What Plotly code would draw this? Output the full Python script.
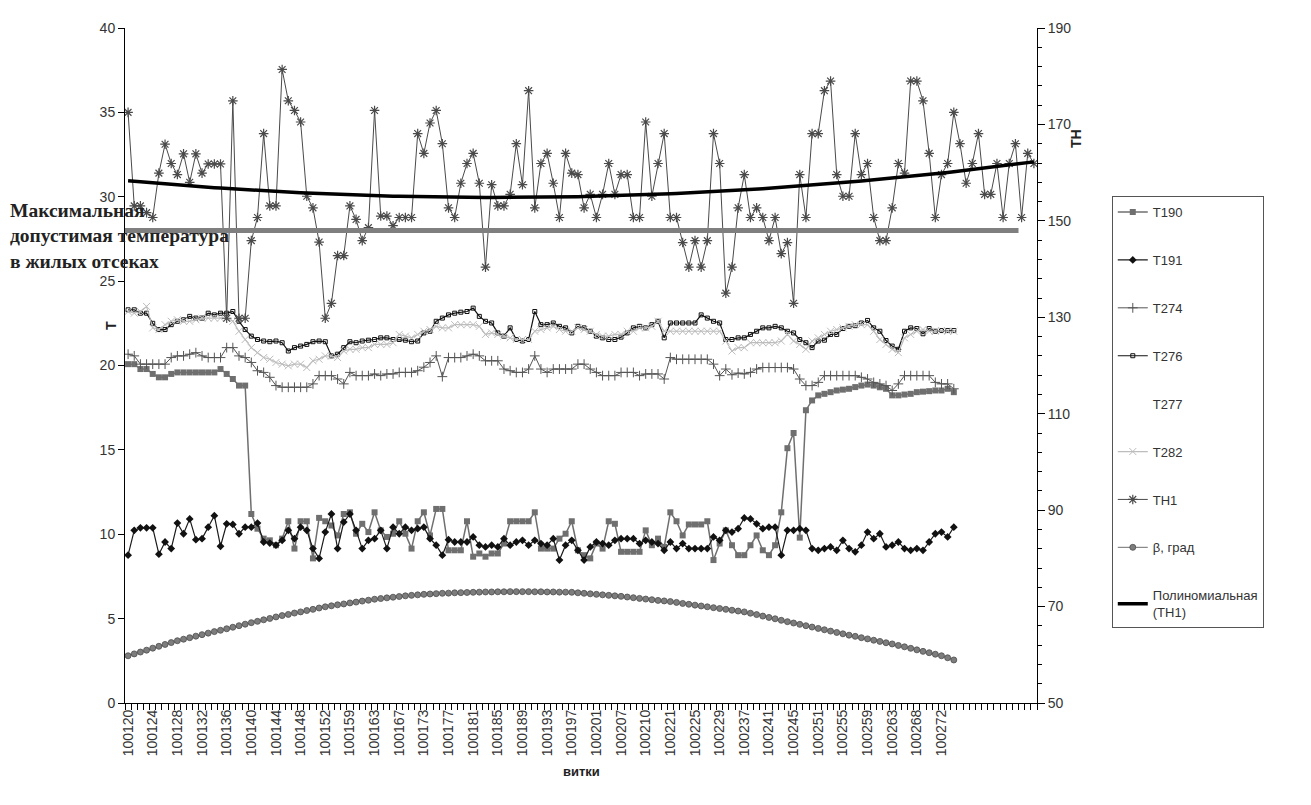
import numpy as np
import plotly.graph_objects as go

# orbit labels (every 4th category is labelled on the axis)
orbit_labels = ["100120", "100124", "100128", "100132", "100136", "100140", "100144",
                "100148", "100152", "100159", "100163", "100167", "100173", "100177",
                "100181", "100185", "100189", "100193", "100197", "100201", "100207",
                "100210", "100221", "100225", "100229", "100237", "100241", "100245",
                "100251", "100255", "100259", "100263", "100268", "100272"]
n_categories = 148

t190 = [20.08, 20.08, 19.79, 19.79, 19.5, 19.3, 19.3, 19.5, 19.59, 19.59,
        19.59, 19.59, 19.59, 19.59, 19.59, 19.79, 19.5, 19.2, 18.81, 18.81,
        11.2, 10.33, 9.74, 9.64, 9.35, 9.74, 10.77, 9.15, 10.77, 10.77,
        8.57, 10.97, 10.77, 10.52, 9.93, 11.2, 11.3, 10.03, 10.62, 10.13,
        11.3, 10.23, 9.84, 10.03, 10.77, 10.03, 9.15, 10.77, 11.3, 9.93,
        11.5, 11.5, 9.05, 9.05, 9.05, 10.77, 8.67, 8.86, 8.67, 8.86,
        8.86, 9.45, 10.77, 10.77, 10.77, 10.77, 11.3, 9.15, 9.15, 9.15,
        9.74, 10.03, 10.77, 9.05, 8.76, 8.57, 9.45, 9.15, 10.77, 10.62,
        8.96, 8.96, 8.96, 8.96, 10.23, 9.35, 9.74, 9.25, 11.3, 10.77,
        9.93, 10.58, 10.58, 10.58, 10.77, 8.47, 9.45, 10.23, 9.35, 8.76,
        8.76, 9.35, 9.93, 9.05, 8.76, 9.35, 11.3, 15.1, 16.0, 9.8,
        17.35, 17.93, 18.23, 18.32, 18.42, 18.52, 18.57, 18.62, 18.72, 18.81,
        18.87, 18.81, 18.71, 18.62, 18.23, 18.23, 18.28, 18.32, 18.42, 18.45,
        18.48, 18.52, 18.52, 18.62, 18.42]

t191 = [8.76, 10.23, 10.38, 10.38, 10.38, 8.82, 9.54, 9.15, 10.66, 10.03,
        10.91, 9.68, 9.74, 10.42, 11.1, 9.29, 10.62, 10.58, 10.03, 10.42,
        10.42, 10.66, 9.54, 9.48, 9.35, 9.64, 10.23, 9.74, 10.42, 10.23,
        9.15, 8.57, 10.13, 11.2, 9.15, 10.72, 11.2, 10.23, 9.15, 9.64,
        9.74, 10.23, 9.15, 10.42, 10.03, 10.42, 10.23, 10.33, 10.42, 9.74,
        9.35, 8.76, 9.68, 9.54, 9.54, 9.54, 9.84, 9.35, 9.25, 9.35,
        9.25, 9.74, 9.35, 9.54, 9.64, 9.35, 9.64, 9.45, 9.35, 9.74,
        8.47, 9.35, 9.64, 9.05, 8.47, 9.25, 9.54, 9.45, 9.35, 9.64,
        9.74, 9.74, 9.74, 9.45, 9.64, 9.54, 9.45, 9.05, 9.54, 9.15,
        9.45, 9.15, 9.15, 9.15, 9.15, 9.84, 9.64, 10.23, 10.13, 10.33,
        10.97, 10.91, 10.62, 10.33, 10.42, 10.42, 8.76, 10.23, 10.23, 10.33,
        10.23, 9.15, 9.05, 9.15, 9.25, 9.05, 9.64, 9.15, 8.96, 9.35,
        10.13, 9.74, 10.03, 9.25, 9.35, 9.54, 9.15, 9.05, 9.15, 9.05,
        9.54, 10.03, 10.13, 9.84, 10.42]

t274 = [20.67, 20.57, 20.08, 20.08, 20.08, 20.08, 20.08, 20.47, 20.57, 20.57,
        20.67, 20.76, 20.57, 20.47, 20.47, 20.47, 21.06, 21.06, 20.57, 20.47,
        20.18, 19.69, 19.59, 19.3, 18.81, 18.71, 18.71, 18.71, 18.71, 18.71,
        18.91, 19.4, 19.4, 19.4, 19.2, 18.91, 19.59, 19.4, 19.4, 19.4,
        19.5, 19.4, 19.5, 19.5, 19.59, 19.59, 19.59, 19.69, 19.9, 20.18,
        20.57, 19.34, 20.47, 20.47, 20.47, 20.57, 20.67, 20.57, 20.28, 20.28,
        20.28, 19.79, 19.69, 19.59, 19.59, 19.79, 20.57, 19.79, 19.59, 19.79,
        19.79, 19.79, 19.79, 20.08, 20.08, 19.79, 19.59, 19.4, 19.4, 19.4,
        19.59, 19.59, 19.59, 19.4, 19.5, 19.5, 19.5, 19.2, 20.47, 20.37,
        20.37, 20.37, 20.37, 20.37, 20.37, 20.08, 19.4, 19.79, 19.45, 19.55,
        19.5, 19.59, 19.79, 19.88, 19.88, 19.88, 19.88, 19.88, 19.79, 19.2,
        18.81, 18.81, 19.0, 19.4, 19.4, 19.4, 19.4, 19.4, 19.4, 19.3,
        19.2, 19.0, 18.91, 18.81, 18.52, 18.91, 19.4, 19.4, 19.4, 19.4,
        19.4, 19.0, 18.91, 18.91, 18.62]

t276 = [23.3, 23.3, 23.1, 23.1, 22.5, 22.13, 22.13, 22.42, 22.62, 22.71,
        22.91, 22.81, 22.81, 23.1, 23.0, 23.1, 23.1, 23.2, 22.62, 22.13,
        21.74, 21.54, 21.45, 21.41, 21.45, 21.35, 20.86, 21.06, 21.15, 21.25,
        21.41, 21.45, 21.41, 20.57, 20.67, 21.06, 21.41, 21.35, 21.45, 21.5,
        21.54, 21.64, 21.64, 21.54, 21.54, 21.5, 21.41, 21.45, 21.93, 22.03,
        22.62, 22.81, 23.0, 23.1, 23.16, 23.2, 23.4, 22.91, 22.62, 22.52,
        21.93, 21.74, 22.23, 21.54, 21.45, 21.54, 23.2, 22.42, 22.42, 22.52,
        22.32, 22.23, 21.93, 22.32, 22.23, 22.03, 21.74, 21.64, 21.54, 21.54,
        21.68, 21.93, 22.23, 22.32, 22.23, 22.42, 22.62, 21.64, 22.52, 22.52,
        22.52, 22.52, 22.52, 23.0, 22.81, 22.62, 22.52, 21.54, 21.54, 21.64,
        21.64, 21.84, 22.03, 22.23, 22.23, 22.32, 22.23, 22.03, 21.93, 21.54,
        21.35, 21.06, 21.45, 21.5, 21.84, 21.84, 22.19, 22.32, 22.36, 22.52,
        22.67, 22.23, 22.03, 21.48, 21.15, 20.96, 22.03, 22.23, 22.19, 21.88,
        22.19, 22.03, 22.07, 22.07, 22.07]

# T277 is drawn in white in the source chart (only its legend entry is visible)
t277 = [23.3, 23.3, 23.1, 23.1, 22.5, 22.13, 22.13, 22.42, 22.62, 22.71,
        22.91, 22.81, 22.81, 23.1, 23.0, 23.1, 23.1, 23.2, 22.62, 22.13,
        21.74, 21.54, 21.45, 21.41, 21.45, 21.35, 20.86, 21.06, 21.15, 21.25,
        21.41, 21.45, 21.41, 20.57, 20.67, 21.06, 21.41, 21.35, 21.45, 21.5,
        21.54, 21.64, 21.64, 21.54, 21.54, 21.5, 21.41, 21.45, 21.93, 22.03,
        22.62, 22.81, 23.0, 23.1, 23.16, 23.2, 23.4, 22.91, 22.62, 22.52,
        21.93, 21.74, 22.23, 21.54, 21.45, 21.54, 23.2, 22.42, 22.42, 22.52,
        22.32, 22.23, 21.93, 22.32, 22.23, 22.03, 21.74, 21.64, 21.54, 21.54,
        21.68, 21.93, 22.23, 22.32, 22.23, 22.42, 22.62, 21.64, 22.52, 22.52,
        22.52, 22.52, 22.52, 23.0, 22.81, 22.62, 22.52, 21.54, 21.54, 21.64,
        21.64, 21.84, 22.03, 22.23, 22.23, 22.32, 22.23, 22.03, 21.93, 21.54,
        21.35, 21.06, 21.45, 21.5, 21.84, 21.84, 22.19, 22.32, 22.36, 22.52,
        22.67, 22.23, 22.03, 21.48, 21.15, 20.96, 22.03, 22.23, 22.19, 21.88,
        22.19, 22.03, 22.07, 22.07, 22.07]

t282 = [23.2, 23.1, 23.2, 23.5, 22.23, 22.13, 22.42, 22.62, 22.71, 22.62,
        22.62, 22.71, 22.81, 22.81, 22.81, 22.81, 22.81, 22.62, 22.03, 21.54,
        21.06, 20.76, 20.47, 20.37, 20.18, 20.08, 19.98, 20.08, 20.08, 19.88,
        20.28, 20.37, 20.57, 20.57, 20.47, 20.86, 20.96, 20.96, 21.06, 21.06,
        21.25, 21.25, 21.25, 21.35, 21.84, 21.74, 21.64, 21.84, 22.03, 22.13,
        22.32, 22.23, 22.23, 22.42, 22.42, 22.42, 22.42, 22.32, 21.84, 21.93,
        21.84, 21.74, 21.64, 21.54, 21.54, 21.54, 22.03, 22.13, 22.23, 22.32,
        22.13, 22.03, 22.03, 22.23, 22.13, 22.03, 21.84, 21.74, 21.74, 21.84,
        21.84, 22.03, 22.03, 22.23, 22.23, 22.32, 22.62, 22.03, 22.03, 22.03,
        22.03, 22.03, 22.03, 22.03, 22.03, 22.03, 22.03, 21.45, 20.86, 21.06,
        21.06, 21.35, 21.35, 21.35, 21.35, 21.35, 21.45, 21.84, 21.45, 21.25,
        20.96, 21.45, 21.64, 21.84, 22.03, 22.13, 22.23, 22.32, 22.42, 22.42,
        22.42, 22.03, 21.54, 21.25, 20.96, 20.76, 21.64, 21.84, 22.03, 22.13,
        22.03, 22.03, 22.07, 22.03, 22.03]

th1 = [172.5, 153.1, 153.1, 151.7, 150.7, 159.9, 165.9, 161.9, 159.6, 163.9,
       158.0, 163.9, 159.9, 161.8, 161.8, 161.8, 129.8, 174.9, 129.8, 129.8,
       145.9, 150.7, 168.1, 153.1, 153.1, 181.4, 174.9, 172.9, 170.5, 155.1,
       152.7, 145.6, 129.8, 132.9, 142.8, 142.8, 153.1, 150.3, 145.9, 148.6,
       172.9, 151.0, 151.0, 149.0, 150.7, 150.7, 150.7, 168.1, 164.0, 170.3,
       172.9, 166.0, 152.7, 150.7, 157.8, 161.9, 164.0, 157.8, 140.4, 157.5,
       153.1, 153.1, 155.5, 166.0, 157.5, 177.0, 152.7, 161.9, 164.0, 157.8,
       150.7, 164.0, 159.9, 159.6, 152.7, 155.5, 150.7, 155.5, 161.9, 155.5,
       159.6, 159.6, 150.7, 150.7, 170.5, 155.1, 161.9, 168.1, 150.7, 150.7,
       145.5, 140.4, 145.9, 140.4, 145.9, 168.1, 161.9, 135.0, 140.4, 152.7,
       159.6, 150.7, 152.7, 150.7, 145.9, 150.7, 143.2, 145.5, 132.9, 159.6,
       150.7, 168.1, 168.1, 177.0, 179.0, 159.6, 155.1, 155.1, 168.1, 159.6,
       161.9, 150.7, 145.9, 145.9, 152.7, 161.9, 159.9, 179.0, 179.0, 174.9,
       164.0, 150.7, 159.6, 161.9, 172.5, 166.0, 157.8, 161.9, 168.1, 155.5,
       155.5, 161.9, 150.7, 161.9, 166.0, 150.7, 164.0, 161.9]

beta = [2.80, 2.91, 3.02, 3.13, 3.25, 3.36, 3.47, 3.58,
        3.69, 3.78, 3.87, 3.96, 4.05, 4.14, 4.23, 4.31,
        4.40, 4.49, 4.58, 4.67, 4.76, 4.84, 4.93, 5.01,
        5.10, 5.18, 5.25, 5.33, 5.40, 5.48, 5.55, 5.63,
        5.70, 5.76, 5.82, 5.87, 5.93, 5.98, 6.04, 6.09,
        6.15, 6.19, 6.23, 6.27, 6.31, 6.35, 6.38, 6.41,
        6.44, 6.46, 6.48, 6.50, 6.51, 6.53, 6.54, 6.55,
        6.56, 6.57, 6.58, 6.58, 6.59, 6.59, 6.60, 6.60,
        6.60, 6.60, 6.59, 6.59, 6.58, 6.58, 6.57, 6.57,
        6.56, 6.53, 6.50, 6.47, 6.44, 6.41, 6.38, 6.35,
        6.32, 6.28, 6.24, 6.20, 6.16, 6.12, 6.08, 6.05,
        6.01, 5.96, 5.90, 5.85, 5.80, 5.75, 5.70, 5.65, 5.60, 5.55, 5.50, 5.45,
        5.40, 5.32, 5.24, 5.15, 5.07, 4.99, 4.90, 4.82,
        4.74, 4.66, 4.58, 4.50, 4.42, 4.34, 4.26, 4.18,
        4.10, 4.02, 3.95, 3.87, 3.80, 3.72, 3.65, 3.57,
        3.50, 3.41, 3.33, 3.24, 3.15, 3.06, 2.98, 2.89,
        2.80, 2.68, 2.55]

max_allowed_t = 28

x_t = list(range(len(t190)))
x_th = list(range(len(th1)))

# polynomial (2nd order) trend line of TH1, like the Excel trendline
coef = np.polyfit(x_th, th1, 2)
th1_trend = np.polyval(coef, x_th)

fig = go.Figure()


def add_series(name, x, y, rank, line, marker, mode="lines+markers", yaxis="y"):
    fig.add_trace(go.Scatter(
        x=x, y=y, name=name, mode=mode, yaxis=yaxis,
        line=line, marker=marker, legendrank=rank, legendgroup=name,
    ))


add_series("T277", x_t, t277, 5, dict(color="white", width=1),
           dict(symbol="circle", size=3, color="white"))
add_series("T190", x_t, t190, 1, dict(color="#6f6f6f", width=1.5),
           dict(symbol="square", size=6, color="#6f6f6f"))
add_series("T191", x_t, t191, 2, dict(color="#1a1a1a", width=1.2),
           dict(symbol="diamond", size=6, color="#111111"))
add_series("T274", x_t, t274, 3, dict(color="#555555", width=1),
           dict(symbol="cross-thin-open", size=7, line=dict(color="#444444", width=1)))
add_series("T276", x_t, t276, 4, dict(color="#111111", width=1.2),
           dict(symbol="square-open", size=4, color="#111111", line=dict(width=1)))
add_series("T282", x_t, t282, 6, dict(color="#bdbdbd", width=1.2),
           dict(symbol="x-thin-open", size=7, line=dict(color="#b0b0b0", width=1)))
add_series("β, град", x_t, beta, 8, dict(color="#6f6f6f", width=1),
           dict(symbol="circle", size=6, color="#7d7d7d", line=dict(color="#4d4d4d", width=0.8)))
add_series("TH1", x_th, th1, 7, dict(color="#4a4a4a", width=1),
           dict(symbol="asterisk-open", size=8, line=dict(color="#2a2a2a", width=1.2)), yaxis="y2")
add_series("Полиномиальная<br>(TH1)", x_th, th1_trend, 9, dict(color="black", width=3.5),
           dict(), mode="lines", yaxis="y2")

# permitted maximum temperature line
fig.add_shape(type="line", xref="x", yref="y", x0=-0.5, x1=144.5,
              y0=max_allowed_t, y1=max_allowed_t,
              line=dict(color="#7f7f7f", width=5), layer="above")

fig.add_annotation(text="<b>Максимальная<br>допустимая температура<br>в жилых отсеках</b>",
                   xref="paper", yref="paper", x=-0.128, y=0.748,
                   xanchor="left", yanchor="top", align="left", showarrow=False,
                   font=dict(family="Liberation Serif", size=19.5, color="#222222"))
fig.add_annotation(text="<b>T</b>", xref="paper", yref="paper", x=-0.027, y=0.559,
                   textangle=-90, showarrow=False,
                   font=dict(family="Liberation Sans", size=14, color="#222222"))
fig.add_annotation(text="<b>TH</b>", xref="paper", yref="paper", x=1.053, y=0.853,
                   textangle=-90, showarrow=False,
                   font=dict(family="Liberation Sans", size=14, color="#222222"))
fig.add_annotation(text="<b>витки</b>", xref="paper", yref="paper", x=0.5, y=-0.116,
                   showarrow=False,
                   font=dict(family="Liberation Sans", size=13, color="#222222"))

fig.update_layout(
    width=1311, height=805,
    margin=dict(l=117, r=282, t=12, b=110),
    plot_bgcolor="white", paper_bgcolor="white",
    font=dict(family="Liberation Sans", size=14, color="#333333"),
    xaxis=dict(
        range=[-0.5, n_categories - 0.5],
        tickmode="array",
        tickvals=list(range(0, 4 * len(orbit_labels), 4)),
        ticktext=orbit_labels,
        tickangle=-90, ticks="", showgrid=False, zeroline=False,
        showline=True, linecolor="black", linewidth=1,
        tickfont=dict(size=14),
        minor=dict(tickmode="linear", tick0=-0.5, dtick=1, ticks="outside",
                   ticklen=6, tickcolor="black", showgrid=False),
    ),
    yaxis=dict(
        range=[0, 40], dtick=5, ticks="outside", ticklen=6, tickcolor="black",
        showgrid=False, zeroline=False, showline=True, linecolor="black",
        tickfont=dict(size=14),
    ),
    yaxis2=dict(
        range=[50, 190], tick0=50, dtick=20, overlaying="y", side="right",
        ticks="outside", ticklen=7, tickcolor="black",
        showgrid=False, zeroline=False, showline=True, linecolor="black",
        tickfont=dict(size=14),
        minor=dict(tick0=50, dtick=4, ticks="outside", ticklen=4, tickcolor="black"),
    ),
    legend=dict(
        x=1.082, y=0.751, xanchor="left", yanchor="top",
        bordercolor="#555555", borderwidth=1, bgcolor="white",
        font=dict(size=13, color="#333333"), tracegroupgap=28,
    ),
    showlegend=True,
)

fig.write_html("out.html")
